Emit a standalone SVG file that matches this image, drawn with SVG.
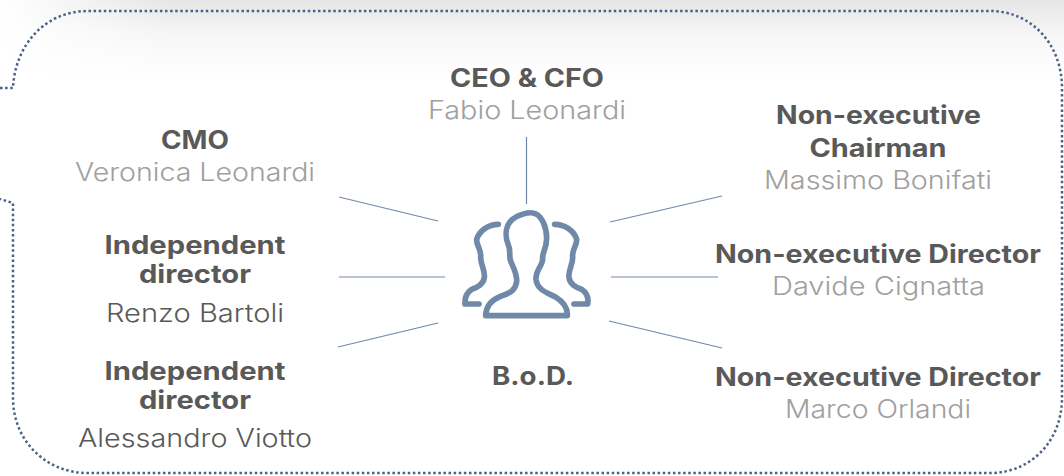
<svg xmlns="http://www.w3.org/2000/svg" width="1064" height="476" viewBox="0 0 1064 476">
<style>
text{font-family:Inter,"Open Sans","Liberation Sans",sans-serif;font-size:25px;text-anchor:middle}
.b{font-weight:700;fill:#595959}
.l{font-weight:300;fill:#a0a0a0}
.d{font-weight:300;fill:#595959}
.c line{stroke:#6f89a8;stroke-width:1.2;fill:none}
.i path{fill:none;stroke:#7089a8;stroke-width:17;stroke-linecap:round;stroke-linejoin:round}
</style>
<defs>
<linearGradient id="sv" x1="0" y1="0" x2="0" y2="1"><stop offset="0" stop-color="#e6e6e6"/><stop offset=".45" stop-color="#f6f6f6"/><stop offset="1" stop-color="#fff"/></linearGradient>
<linearGradient id="sh" x1="0" y1="0" x2="1" y2="0"><stop offset="0" stop-color="#fff"/><stop offset="1" stop-color="#fff" stop-opacity="0"/></linearGradient>
</defs>
<rect x="0" y="0" width="1064" height="76" fill="url(#sv)"/>
<rect x="0" y="0" width="170" height="90" fill="url(#sh)"/>
<path id="frame" d="M0 88H13C15 45 45 11 88 11H990C1032 11 1062 45 1062 88V398C1062 440 1032 473 990 473H88C45 473 13 440 13 398V203L0 199" fill="none" stroke="#4a6285" stroke-width="2.5" stroke-dasharray="2.5 2.6"/>
<g id="connectors" class="c">
<line x1="339" y1="197" x2="438" y2="221"/>
<line x1="339" y1="277" x2="445" y2="277"/>
<line x1="338" y1="347" x2="438" y2="323"/>
<line x1="526.500" y1="137" x2="526.500" y2="204"/>
<line x1="610" y1="222" x2="722" y2="196"/>
<line x1="611" y1="277" x2="718" y2="277"/>
<line x1="609" y1="321" x2="722" y2="348"/>
</g>
<g id="bod">
<g class="i" transform="translate(430 190) scale(.3333)">
<path d="M167 377H412C414 350 395 332 375 320C350 308 322 300 318 268C316 240 340 225 338 205C336 190 350 175 350 145C350 110 335 80 318 72C300 62 262 75 245 90C225 110 225 140 235 165C242 180 238 190 240 205C242 222 262 245 260 275C256 305 235 310 210 320C185 330 168 350 167 377Z"/>
<path d="M205 103C175 103 148 122 140 148C138 165 155 180 152 200C150 220 166 240 163 262C160 285 140 292 125 298C110 308 104 325 105 342H147"/>
<path d="M374 103C405 103 432 122 440 148C442 165 425 180 428 200C430 220 414 240 417 262C420 285 440 292 455 298C470 308 476 325 473 342H432"/>
</g>
<text class="b" x="533" y="385" textLength="82" lengthAdjust="spacingAndGlyphs">B.o.D.</text>
</g>
<g id="ceo">
<text class="b" x="527" y="86.500" textLength="154" lengthAdjust="spacingAndGlyphs">CEO &amp; CFO</text>
<text class="l" x="527" y="119" textLength="198" lengthAdjust="spacingAndGlyphs">Fabio Leonardi</text>
</g>
<g id="cmo">
<text class="b" x="195" y="149" textLength="68" lengthAdjust="spacingAndGlyphs">CMO</text>
<text class="l" x="195" y="181" textLength="240" lengthAdjust="spacingAndGlyphs">Veronica Leonardi</text>
</g>
<g id="bartoli">
<text class="b" x="195" y="254" textLength="181" lengthAdjust="spacingAndGlyphs">Independent</text>
<text class="b" x="195" y="282.500" textLength="112" lengthAdjust="spacingAndGlyphs">director</text>
<text class="d" x="195" y="321.500" textLength="178" lengthAdjust="spacingAndGlyphs">Renzo Bartoli</text>
</g>
<g id="viotto">
<text class="b" x="195" y="380" textLength="181" lengthAdjust="spacingAndGlyphs">Independent</text>
<text class="b" x="195" y="408.500" textLength="112" lengthAdjust="spacingAndGlyphs">director</text>
<text class="d" x="195" y="447" textLength="234" lengthAdjust="spacingAndGlyphs">Alessandro Viotto</text>
</g>
<g id="bonifati">
<text class="b" x="878.500" y="124" textLength="205" lengthAdjust="spacingAndGlyphs">Non-executive</text>
<text class="b" x="878" y="156.500" textLength="137" lengthAdjust="spacingAndGlyphs">Chairman</text>
<text class="l" x="878" y="189" textLength="228" lengthAdjust="spacingAndGlyphs">Massimo Bonifati</text>
</g>
<g id="cignatta">
<text class="b" x="878" y="263" textLength="326" lengthAdjust="spacingAndGlyphs">Non-executive Director</text>
<text class="l" x="878.500" y="295" textLength="213" lengthAdjust="spacingAndGlyphs">Davide Cignatta</text>
</g>
<g id="orlandi">
<text class="b" x="878" y="386" textLength="326" lengthAdjust="spacingAndGlyphs">Non-executive Director</text>
<text class="l" x="878" y="418" textLength="186" lengthAdjust="spacingAndGlyphs">Marco Orlandi</text>
</g>
</svg>
